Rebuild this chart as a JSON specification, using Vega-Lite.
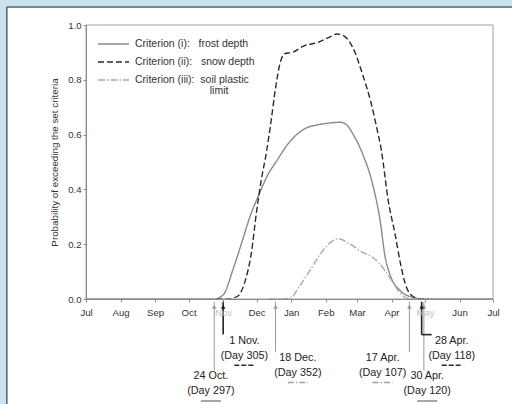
{
  "$schema": "https://vega.github.io/schema/vega-lite/v6.json",
  "width": 407,
  "height": 274,
  "autosize": {"type": "none"},
  "padding": {"left": 86, "top": 25, "right": 19, "bottom": 105},
  "background": "white",
  "config": {
    "font": "Liberation Sans",
    "view": {"stroke": null},
    "axis": {
      "zindex": 1,
      "grid": false,
      "labelFont": "Liberation Sans",
      "labelFontSize": 9.6,
      "labelColor": "#333333",
      "domainColor": "#8c8c8c",
      "tickColor": "#8c8c8c",
      "tickSize": 3,
      "titleFont": "Liberation Sans",
      "titleFontWeight": "normal",
      "titleColor": "#333333"
    },
    "axisY": {"labelOverlap": false},
    "legend": {
      "orient": "none",
      "legendX": 11,
      "legendY": 11,
      "padding": 0,
      "zindex": 2,
      "symbolType": "stroke",
      "symbolSize": 961,
      "symbolStrokeWidth": 1.5,
      "clipHeight": 16,
      "rowPadding": 2,
      "labelFont": "Liberation Sans",
      "labelFontSize": 10.5,
      "labelColor": "#333333",
      "labelOffset": 5,
      "labelLimit": 300
    }
  },
  "datasets": {
    "curves": [
      {"c": "i", "d": "2000-07-01", "p": 0},
      {"c": "i", "d": "2000-10-24", "p": 0},
      {"c": "i", "d": "2000-11-01", "p": 0.015},
      {"c": "i", "d": "2000-11-10", "p": 0.11},
      {"c": "i", "d": "2000-11-18", "p": 0.21},
      {"c": "i", "d": "2000-11-25", "p": 0.3},
      {"c": "i", "d": "2000-12-03", "p": 0.38},
      {"c": "i", "d": "2000-12-10", "p": 0.445},
      {"c": "i", "d": "2000-12-20", "p": 0.51},
      {"c": "i", "d": "2000-12-28", "p": 0.56},
      {"c": "i", "d": "2001-01-06", "p": 0.6},
      {"c": "i", "d": "2001-01-15", "p": 0.625},
      {"c": "i", "d": "2001-01-24", "p": 0.635},
      {"c": "i", "d": "2001-02-04", "p": 0.642},
      {"c": "i", "d": "2001-02-14", "p": 0.645},
      {"c": "i", "d": "2001-02-20", "p": 0.635},
      {"c": "i", "d": "2001-02-25", "p": 0.605},
      {"c": "i", "d": "2001-03-06", "p": 0.53},
      {"c": "i", "d": "2001-03-15", "p": 0.42},
      {"c": "i", "d": "2001-03-22", "p": 0.28},
      {"c": "i", "d": "2001-03-26", "p": 0.16},
      {"c": "i", "d": "2001-03-31", "p": 0.085},
      {"c": "i", "d": "2001-04-09", "p": 0.03},
      {"c": "i", "d": "2001-04-20", "p": 0.006},
      {"c": "i", "d": "2001-04-30", "p": 0},
      {"c": "i", "d": "2001-07-01", "p": 0},
      {"c": "ii", "d": "2000-10-26", "p": 0},
      {"c": "ii", "d": "2000-11-05", "p": 0},
      {"c": "ii", "d": "2000-11-14", "p": 0.01},
      {"c": "ii", "d": "2000-11-21", "p": 0.07},
      {"c": "ii", "d": "2000-11-26", "p": 0.16},
      {"c": "ii", "d": "2000-12-01", "p": 0.32},
      {"c": "ii", "d": "2000-12-05", "p": 0.43},
      {"c": "ii", "d": "2000-12-10", "p": 0.54},
      {"c": "ii", "d": "2000-12-14", "p": 0.65},
      {"c": "ii", "d": "2000-12-18", "p": 0.77},
      {"c": "ii", "d": "2000-12-22", "p": 0.86},
      {"c": "ii", "d": "2000-12-26", "p": 0.895},
      {"c": "ii", "d": "2001-01-02", "p": 0.9},
      {"c": "ii", "d": "2001-01-13", "p": 0.925},
      {"c": "ii", "d": "2001-01-24", "p": 0.935},
      {"c": "ii", "d": "2001-02-04", "p": 0.955},
      {"c": "ii", "d": "2001-02-11", "p": 0.967},
      {"c": "ii", "d": "2001-02-16", "p": 0.963},
      {"c": "ii", "d": "2001-02-25", "p": 0.92},
      {"c": "ii", "d": "2001-03-06", "p": 0.82},
      {"c": "ii", "d": "2001-03-14", "p": 0.71},
      {"c": "ii", "d": "2001-03-19", "p": 0.62},
      {"c": "ii", "d": "2001-03-23", "p": 0.54},
      {"c": "ii", "d": "2001-03-29", "p": 0.36},
      {"c": "ii", "d": "2001-04-04", "p": 0.24},
      {"c": "ii", "d": "2001-04-09", "p": 0.13},
      {"c": "ii", "d": "2001-04-13", "p": 0.06},
      {"c": "ii", "d": "2001-04-20", "p": 0.01},
      {"c": "ii", "d": "2001-04-28", "p": 0},
      {"c": "ii", "d": "2001-05-04", "p": 0},
      {"c": "iii", "d": "2000-12-12", "p": 0},
      {"c": "iii", "d": "2000-12-18", "p": 0},
      {"c": "iii", "d": "2000-12-31", "p": 0.003},
      {"c": "iii", "d": "2001-01-09", "p": 0.05},
      {"c": "iii", "d": "2001-01-18", "p": 0.105},
      {"c": "iii", "d": "2001-01-30", "p": 0.18},
      {"c": "iii", "d": "2001-02-05", "p": 0.205},
      {"c": "iii", "d": "2001-02-12", "p": 0.22},
      {"c": "iii", "d": "2001-02-23", "p": 0.2},
      {"c": "iii", "d": "2001-03-06", "p": 0.17},
      {"c": "iii", "d": "2001-03-14", "p": 0.155},
      {"c": "iii", "d": "2001-03-20", "p": 0.135},
      {"c": "iii", "d": "2001-03-30", "p": 0.08},
      {"c": "iii", "d": "2001-04-08", "p": 0.025},
      {"c": "iii", "d": "2001-04-17", "p": 0},
      {"c": "iii", "d": "2001-04-24", "p": 0}
    ],
    "notes": [
      {"c": "i", "d": "2000-10-24", "t": "24 Oct.", "day": "(Day 297)"},
      {"c": "ii", "d": "2000-11-01", "t": "1 Nov.", "day": "(Day 305)"},
      {"c": "iii", "d": "2000-12-18", "t": "18 Dec.", "day": "(Day 352)"},
      {"c": "iii", "d": "2001-04-17", "t": "17 Apr.", "day": "(Day 107)"},
      {"c": "i", "d": "2001-04-30", "t": "30 Apr.", "day": "(Day 120)"},
      {"c": "ii", "d": "2001-04-28", "t": "28 Apr.", "day": "(Day 118)"}
    ]
  },
  "layer": [
    {
      "data": {"name": "curves"},
      "mark": {"type": "line", "interpolate": "monotone", "strokeWidth": 1.4},
      "encoding": {
        "x": {
          "field": "d",
          "type": "temporal",
          "title": null,
          "scale": {
            "type": "utc",
            "domain": [
              {"year": 2000, "month": "jul", "date": 1, "utc": true},
              {"year": 2001, "month": "jul", "date": 1, "utc": true}
            ],
            "nice": false
          },
          "axis": {
            "format": "%b",
            "tickCount": {"interval": "month", "step": 1},
            "labelPadding": 5,
            "labelFlush": false,
            "labelOverlap": false,
            "labelBound": false,
            "zindex": 3,
            "labelColor": {
              "condition": {"test": "utcmonth(datum.value)==10 || utcmonth(datum.value)==4", "value": "#c4c4c4"},
              "value": "#333333"
            }
          }
        },
        "y": {
          "field": "p",
          "type": "quantitative",
          "title": "Probability of exceeding the set criteria",
          "scale": {"domain": [0, 1], "nice": false, "zero": false},
          "axis": {"values": [0, 0.1, 0.2, 0.3, 0.4, 0.5, 0.6, 0.7, 0.8, 0.9, 1.0], "tickCount": 10, "format": ".1f", "labelPadding": 2, "titlePadding": 8, "titleFontSize": 9.8, "labelOverlap": false, "zindex": 3}
        },
        "color": {
          "field": "c",
          "type": "nominal",
          "scale": {"domain": ["i", "ii", "iii"], "range": ["#8a8a8a", "#2b2b2b", "#ababab"]},
          "legend": {
            "title": null,
            "labelExpr": "datum.value == 'i' ? 'Criterion (i):\u00a0\u00a0\u00a0frost depth' : datum.value == 'ii' ? 'Criterion (ii):\u00a0\u00a0\u00a0snow depth' : 'Criterion (iii):\u00a0\u00a0soil plastic'"
          }
        },
        "strokeDash": {
          "field": "c",
          "type": "nominal",
          "scale": {"domain": ["i", "ii", "iii"], "range": [[1, 0], [6, 3], [7, 2, 1.5, 2]]},
          "legend": {
            "title": null,
            "labelExpr": "datum.value == 'i' ? 'Criterion (i):\u00a0\u00a0\u00a0frost depth' : datum.value == 'ii' ? 'Criterion (ii):\u00a0\u00a0\u00a0snow depth' : 'Criterion (iii):\u00a0\u00a0soil plastic'"
          }
        }
      }
    },
    {
      "data": {"values": [{}]},
      "mark": {"type": "rect", "fillOpacity": 0, "stroke": "#a0a0a0", "strokeWidth": 1},
      "encoding": {
        "x": {"datum": {"year": 2000, "month": "jul", "date": 1, "utc": true}, "type": "temporal", "title": null},
        "x2": {"datum": {"year": 2001, "month": "jul", "date": 1, "utc": true}},
        "y": {"datum": 1, "type": "quantitative", "title": "Probability of exceeding the set criteria",
          "axis": {"values": [0, 0.1, 0.2, 0.3, 0.4, 0.5, 0.6, 0.7, 0.8, 0.9, 1.0], "tickCount": 10, "format": ".1f", "labelPadding": 2, "titlePadding": 8, "titleFontSize": 9.8, "labelOverlap": false, "zindex": 3}},
        "y2": {"datum": 0}
      }
    },
    {
      "data": {"values": [{}]},
      "mark": {"type": "text", "text": "limit", "fontSize": 10.5, "color": "#333333", "align": "left", "baseline": "middle"},
      "encoding": {
        "x": {"datum": {"year": 2000, "month": "oct", "date": 20, "utc": true}, "type": "temporal", "title": null},
        "y": {"datum": 0.759, "type": "quantitative", "title": "Probability of exceeding the set criteria",
          "axis": {"values": [0, 0.1, 0.2, 0.3, 0.4, 0.5, 0.6, 0.7, 0.8, 0.9, 1.0], "tickCount": 10, "format": ".1f", "labelPadding": 2, "titlePadding": 8, "titleFontSize": 9.8, "labelOverlap": false, "zindex": 3}}
      }
    },
    {
      "data": {"name": "notes"},
      "transform": [
        {"calculate": "datum.c=='ii' ? -0.13 : datum.c=='iii' ? -0.193 : -0.26", "as": "yEnd"},
        {"calculate": "datum.yEnd - 0.022", "as": "ly1"},
        {"calculate": "datum.ly1 - 0.055", "as": "ly2"},
        {"calculate": "datum.ly2 - 0.035", "as": "uy"},
        {"calculate": "datum.t=='24 Oct.' ? -3 : datum.t=='1 Nov.' ? 19 : datum.t=='18 Dec.' ? 20 : datum.t=='17 Apr.' ? -24 : datum.t=='30 Apr.' ? 3 : 27", "as": "off"},
        {"calculate": "utcOffset('day', toDate(datum.d), datum.off)", "as": "lx"},
        {"calculate": "utcOffset('day', toDate(datum.d), datum.off - 9)", "as": "ux1"},
        {"calculate": "utcOffset('day', toDate(datum.d), datum.off + 9)", "as": "ux2"},
        {"calculate": "utcOffset('day', toDate(datum.d), 9)", "as": "hx"},
        {"calculate": "-0.01", "as": "yTop"}
      ],
      "layer": [
        {
          "mark": {"type": "rule"},
          "encoding": {
            "x": {"field": "d", "type": "temporal", "title": null},
            "y": {"field": "yEnd", "type": "quantitative", "title": "Probability of exceeding the set criteria",
              "axis": {"values": [0, 0.1, 0.2, 0.3, 0.4, 0.5, 0.6, 0.7, 0.8, 0.9, 1.0], "tickCount": 10, "format": ".1f", "labelPadding": 2, "titlePadding": 8, "titleFontSize": 9.8, "labelOverlap": false, "zindex": 3}},
            "y2": {"field": "yTop"},
            "color": {"condition": {"test": "datum.c=='ii'", "value": "#222222"}, "value": "#9a9a9a"},
            "strokeWidth": {"condition": {"test": "datum.c=='ii'", "value": 1.6}, "value": 1}
          }
        },
        {
          "mark": {"type": "point", "shape": "triangle-up", "filled": true, "opacity": 1, "size": 22, "yOffset": 5},
          "encoding": {
            "x": {"field": "d", "type": "temporal", "title": null},
            "y": {"field": "yTop", "type": "quantitative", "title": "Probability of exceeding the set criteria",
              "axis": {"values": [0, 0.1, 0.2, 0.3, 0.4, 0.5, 0.6, 0.7, 0.8, 0.9, 1.0], "tickCount": 10, "format": ".1f", "labelPadding": 2, "titlePadding": 8, "titleFontSize": 9.8, "labelOverlap": false, "zindex": 3}},
            "color": {"condition": {"test": "datum.c=='ii'", "value": "#222222"}, "value": "#9a9a9a"}
          }
        },
        {
          "transform": [{"filter": "datum.t=='28 Apr.'"}],
          "mark": {"type": "rule", "strokeWidth": 1.6, "color": "#222222"},
          "encoding": {
            "x": {"field": "d", "type": "temporal", "title": null},
            "x2": {"field": "hx"},
            "y": {"field": "yEnd", "type": "quantitative", "title": "Probability of exceeding the set criteria",
              "axis": {"values": [0, 0.1, 0.2, 0.3, 0.4, 0.5, 0.6, 0.7, 0.8, 0.9, 1.0], "tickCount": 10, "format": ".1f", "labelPadding": 2, "titlePadding": 8, "titleFontSize": 9.8, "labelOverlap": false, "zindex": 3}}
          }
        },
        {
          "mark": {"type": "text", "fontSize": 10.8, "color": "#222222", "align": "center", "baseline": "middle"},
          "encoding": {
            "x": {"field": "lx", "type": "temporal", "title": null},
            "y": {"field": "ly1", "type": "quantitative", "title": "Probability of exceeding the set criteria",
              "axis": {"values": [0, 0.1, 0.2, 0.3, 0.4, 0.5, 0.6, 0.7, 0.8, 0.9, 1.0], "tickCount": 10, "format": ".1f", "labelPadding": 2, "titlePadding": 8, "titleFontSize": 9.8, "labelOverlap": false, "zindex": 3}},
            "text": {"field": "t"}
          }
        },
        {
          "mark": {"type": "text", "fontSize": 10.8, "color": "#222222", "align": "center", "baseline": "middle"},
          "encoding": {
            "x": {"field": "lx", "type": "temporal", "title": null},
            "y": {"field": "ly2", "type": "quantitative", "title": "Probability of exceeding the set criteria",
              "axis": {"values": [0, 0.1, 0.2, 0.3, 0.4, 0.5, 0.6, 0.7, 0.8, 0.9, 1.0], "tickCount": 10, "format": ".1f", "labelPadding": 2, "titlePadding": 8, "titleFontSize": 9.8, "labelOverlap": false, "zindex": 3}},
            "text": {"field": "day"}
          }
        },
        {
          "mark": {"type": "rule", "strokeWidth": 1.4},
          "encoding": {
            "x": {"field": "ux1", "type": "temporal", "title": null},
            "x2": {"field": "ux2"},
            "y": {"field": "uy", "type": "quantitative", "title": "Probability of exceeding the set criteria",
              "axis": {"values": [0, 0.1, 0.2, 0.3, 0.4, 0.5, 0.6, 0.7, 0.8, 0.9, 1.0], "tickCount": 10, "format": ".1f", "labelPadding": 2, "titlePadding": 8, "titleFontSize": 9.8, "labelOverlap": false, "zindex": 3}},
            "color": {
              "condition": [
                {"test": "datum.c=='ii'", "value": "#2b2b2b"},
                {"test": "datum.c=='iii'", "value": "#a0a0a0"}
              ],
              "value": "#8a8a8a"
            },
            "strokeDash": {
              "condition": [
                {"test": "datum.c=='ii'", "value": [5, 2]},
                {"test": "datum.c=='iii'", "value": [6, 2, 1.5, 2]}
              ],
              "value": [1, 0]
            }
          }
        }
      ]
    },
    {
      "data": {"values": [{}]},
      "mark": {"type": "rect", "fill": "#c9e3f0", "stroke": null},
      "encoding": {
        "x": {"datum": {"year": 1999, "month": "jan", "date": 1, "utc": true}, "type": "temporal", "title": null},
        "x2": {"datum": {"year": 2000, "month": "apr", "date": 21, "utc": true}},
        "y": {"datum": 2, "type": "quantitative", "title": "Probability of exceeding the set criteria",
          "axis": {"values": [0, 0.1, 0.2, 0.3, 0.4, 0.5, 0.6, 0.7, 0.8, 0.9, 1.0], "tickCount": 10, "format": ".1f", "labelPadding": 2, "titlePadding": 8, "titleFontSize": 9.8, "labelOverlap": false, "zindex": 3}},
        "y2": {"datum": -1}
      }
    },
    {
      "data": {"values": [{}]},
      "mark": {"type": "rect", "fill": "#c9e3f0", "stroke": null},
      "encoding": {
        "x": {"datum": {"year": 1999, "month": "jan", "date": 1, "utc": true}, "type": "temporal", "title": null},
        "x2": {"datum": {"year": 2002, "month": "jan", "date": 1, "utc": true}},
        "y": {"datum": 2, "type": "quantitative", "title": "Probability of exceeding the set criteria",
          "axis": {"values": [0, 0.1, 0.2, 0.3, 0.4, 0.5, 0.6, 0.7, 0.8, 0.9, 1.0], "tickCount": 10, "format": ".1f", "labelPadding": 2, "titlePadding": 8, "titleFontSize": 9.8, "labelOverlap": false, "zindex": 3}},
        "y2": {"datum": 1.066}
      }
    },
    {
      "data": {"values": [{}]},
      "mark": {"type": "rule", "color": "#56626c", "strokeWidth": 1.5},
      "encoding": {
        "x": {"datum": {"year": 2000, "month": "apr", "date": 21, "utc": true}, "type": "temporal", "title": null},
        "y": {"datum": 1.066, "type": "quantitative", "title": "Probability of exceeding the set criteria",
          "axis": {"values": [0, 0.1, 0.2, 0.3, 0.4, 0.5, 0.6, 0.7, 0.8, 0.9, 1.0], "tickCount": 10, "format": ".1f", "labelPadding": 2, "titlePadding": 8, "titleFontSize": 9.8, "labelOverlap": false, "zindex": 3}},
        "y2": {"datum": -1}
      }
    },
    {
      "data": {"values": [{}]},
      "mark": {"type": "rule", "color": "#56626c", "strokeWidth": 1.5},
      "encoding": {
        "x": {"datum": {"year": 2000, "month": "apr", "date": 21, "utc": true}, "type": "temporal", "title": null},
        "x2": {"datum": {"year": 2002, "month": "jan", "date": 1, "utc": true}},
        "y": {"datum": 1.066, "type": "quantitative", "title": "Probability of exceeding the set criteria",
          "axis": {"values": [0, 0.1, 0.2, 0.3, 0.4, 0.5, 0.6, 0.7, 0.8, 0.9, 1.0], "tickCount": 10, "format": ".1f", "labelPadding": 2, "titlePadding": 8, "titleFontSize": 9.8, "labelOverlap": false, "zindex": 3}}
      }
    }
  ]
}
